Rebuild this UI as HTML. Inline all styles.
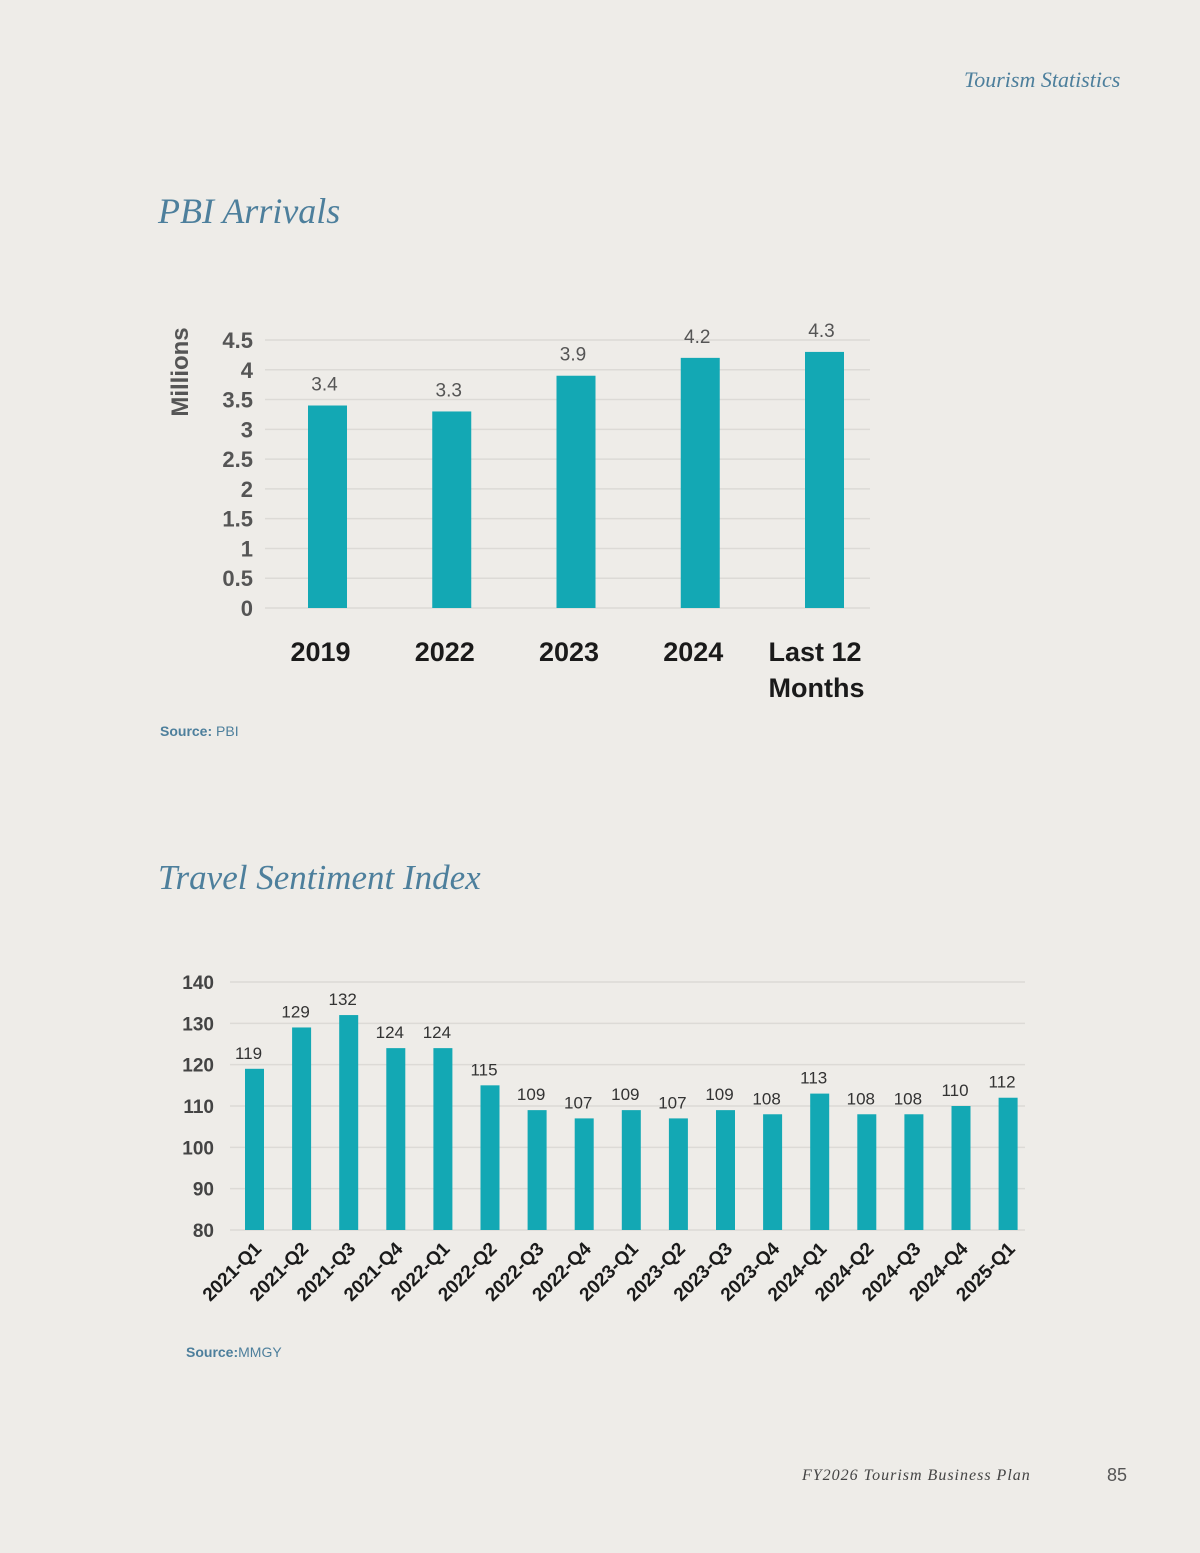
<!DOCTYPE html>
<html><head><meta charset="utf-8"><style>
body{margin:0;width:1200px;height:1553px;background:#eeece8;font-family:"Liberation Sans",sans-serif;position:relative;overflow:hidden}
.t{position:absolute}
</style></head><body>
<div class="t" style="left:964px;top:67px;font:italic 22px 'Liberation Serif',serif;color:#4d7f9c">Tourism Statistics</div>
<div class="t" style="left:158px;top:190px;font:italic 36px 'Liberation Serif',serif;color:#4d7f9c">PBI Arrivals</div>
<div class="t" style="left:158px;top:858px;font:italic 35px 'Liberation Serif',serif;color:#4d7f9c">Travel Sentiment Index</div>
<div class="t" style="left:160px;top:723px;font-size:14px;color:#4d7f9c"><b>Source:</b> PBI</div>
<div class="t" style="left:186px;top:1344px;font-size:14px;color:#4d7f9c"><b>Source:</b>MMGY</div>
<div class="t" style="left:802px;top:1467px;font:italic 16px 'Liberation Serif',serif;color:#444;letter-spacing:1px">FY2026 Tourism Business Plan</div>
<div class="t" style="left:1107px;top:1465px;font-size:18px;color:#555">85</div>
<svg id="c1" class="t" style="left:0;top:0" width="1200" height="760"></svg>
<svg id="c2" class="t" style="left:0;top:900px" width="1200" height="440"></svg>
<script>
const cats1=["2019","2022","2023","2024","Last 12|Months"];
const vals1=[3.4,3.3,3.9,4.2,4.3];
const ticks1=[0,0.5,1,1.5,2,2.5,3,3.5,4,4.5];
const cats2=["2021-Q1","2021-Q2","2021-Q3","2021-Q4","2022-Q1","2022-Q2","2022-Q3","2022-Q4","2023-Q1","2023-Q2","2023-Q3","2023-Q4","2024-Q1","2024-Q2","2024-Q3","2024-Q4","2025-Q1"];
const vals2=[119,129,132,124,124,115,109,107,109,107,109,108,113,108,108,110,112];
const ticks2=[80,90,100,110,120,130,140];
const NS="http://www.w3.org/2000/svg";
function mk(p,tag,a,txt){const e=document.createElementNS(NS,tag);for(const k in a)e.setAttribute(k,a[k]);if(txt!=null)e.textContent=txt;p.appendChild(e);return e;}
// chart 1
(function(){
const s=document.getElementById('c1');
const y=v=>608-v*(268/4.5);const x=i=>327.5+i*124.25;
ticks1.forEach(t=>{const g=mk(s,'line',{x1:265,x2:870,y1:y(t),y2:y(t),stroke:'#dcdad6','stroke-width':1.5});
const l=mk(s,'text',{x:253,y:y(t)+8,'text-anchor':'end','font-size':22,'font-weight':'bold',fill:'#555'},String(t));});
const at=mk(s,'text',{x:0,y:0,transform:'translate(188,372) rotate(-90)','text-anchor':'middle','font-size':24,'font-weight':'bold',fill:'#555'},'Millions');
vals1.forEach((v,i)=>{const b=mk(s,'rect',{x:x(i)-19.5,y:y(v),width:39,height:608-y(v),fill:'#13a8b4'});
const l=mk(s,'text',{x:x(i)-3,y:y(v)-15,'text-anchor':'middle','font-size':19,fill:'#555'},v.toFixed(1));
const parts=cats1[i].split('|');parts.forEach((p,j)=>{const c=mk(s,'text',{x:parts.length>1?x(i)-56:x(i)-7,y:661+j*36,'text-anchor':parts.length>1?'start':'middle','font-size':27,'font-weight':'bold',fill:'#1a1a1a'},p);});});
})();
// chart 2
(function(){
const s=document.getElementById('c2');const o=900;
const y=v=>1230-o-(v-80)*(248/60);const x=i=>254.5+i*47.1;
ticks2.forEach(t=>{const g=mk(s,'line',{x1:230,x2:1025,y1:y(t),y2:y(t),stroke:'#dcdad6','stroke-width':1.5});
const l=mk(s,'text',{x:214,y:y(t)+7,'text-anchor':'end','font-size':19,'font-weight':'bold',fill:'#444'},String(t));});
vals2.forEach((v,i)=>{const b=mk(s,'rect',{x:x(i)-9.5,y:y(v),width:19,height:y(80)-y(v),fill:'#13a8b4'});
const l=mk(s,'text',{x:x(i)-6,y:y(v)-10,'text-anchor':'middle','font-size':17,fill:'#333'},String(v));
const c=mk(s,'text',{x:0,y:0,transform:`translate(${x(i)+8},${y(80)+20}) rotate(-45)`,'text-anchor':'end','font-size':19,'font-weight':'bold',fill:'#1a1a1a'},cats2[i]);});
})();
</script>
</body></html>
